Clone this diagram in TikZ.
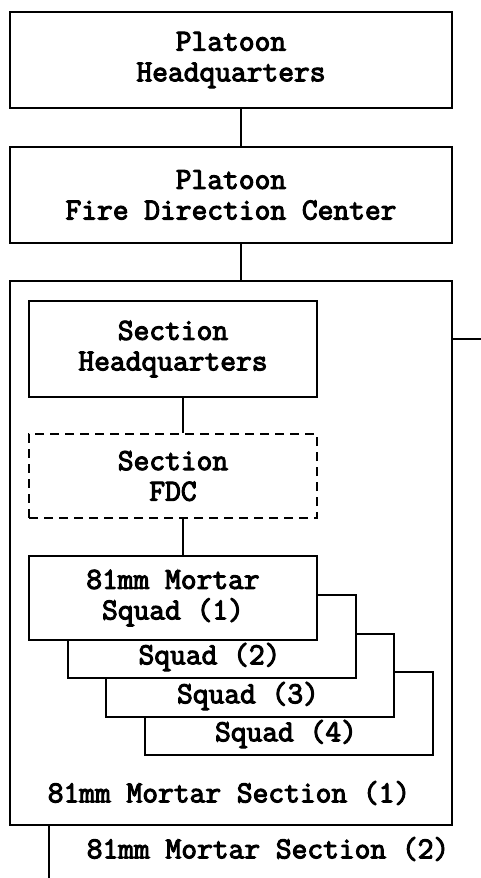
\documentclass[tikz,border=0pt]{standalone}
\usepackage{fontspec}
\newfontfamily\mymono[FakeBold=3.5]{Latin Modern Mono}
\begin{document}
\begin{tikzpicture}[x=1pt,y=-1pt,line width=2pt,
  txt/.style={font=\fontsize{30.6}{30.6}\selectfont\mymono},
  box/.style={draw=black,fill=white,rectangle,inner sep=0pt,align=center,txt},
  big/.style={box,minimum width=442pt,minimum height=96pt},
  small/.style={box,minimum width=288pt,minimum height=96pt},
  squadbox/.style={box,minimum width=288pt,minimum height=83pt},
  lbl/.style={inner sep=0pt,txt},
  conn/.style={draw=black,line width=2pt}]
\useasboundingbox (0,0) rectangle (481,878);
% platoon level
\node[big] (phq) at (231,60) {Platoon\\Headquarters};
\node[big] (pfdc) at (231,195) {Platoon\\Fire Direction Center};
\node[box,minimum width=442pt,minimum height=544pt] (sec) at (231,553) {};
\draw[conn] ([xshift=9.5pt]phq.south) -- ([xshift=9.5pt]pfdc.north);
\draw[conn] ([xshift=9.5pt]pfdc.south) -- ([xshift=9.5pt]sec.north);
% stubs
\coordinate (rstub) at (481,339);
\coordinate (lstub) at (48.7,878);
\draw[conn] (sec.east |- rstub) -- (rstub);
\draw[conn] (sec.south -| lstub) -- (lstub);
% section contents
\node[small] (shq) at (173,349) {Section\\Headquarters};
\node[box,dash pattern=on 9pt off 6pt,minimum width=288pt,minimum height=84pt] (sfdc) at (173,476) {Section\\FDC};
\node[squadbox] (sq4) at (288.5,713.5) {};
\node[squadbox] (sq3) at (250,675) {};
\node[squadbox] (sq2) at (211.5,636.5) {};
\node[box,minimum width=288pt,minimum height=84pt] (sq1) at (173,598) {81mm Mortar\\Squad (1)};
\draw[conn] ([xshift=9.7pt]shq.south) -- ([xshift=9.7pt]sfdc.north);
\draw[conn] ([xshift=9.7pt]sfdc.south) -- ([xshift=9.7pt]sq1.north);
\node[lbl] (t2) at (209.5,657) {Squad (2)};
\node[lbl] (t3) at (248,696) {Squad (3)};
\node[lbl] (t4) at (286,734) {Squad (4)};
\node[lbl] (sec1) at (229,793) {81mm Mortar Section (1)};
\node[lbl] (sec2) at (268,849) {81mm Mortar Section (2)};
\end{tikzpicture}
\end{document}
